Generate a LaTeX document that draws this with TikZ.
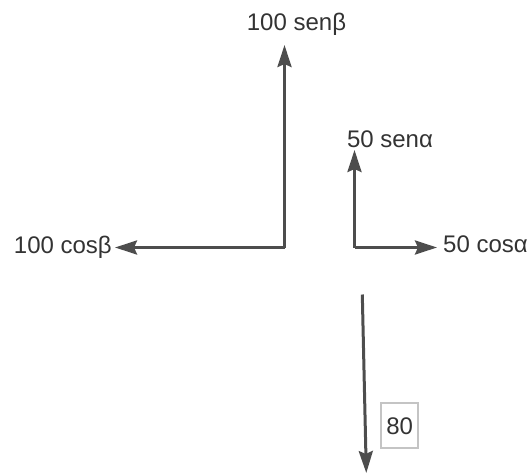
\documentclass[tikz,border=0pt]{standalone}
\usepackage{fontspec}
\setmainfont{Liberation Sans}
\usetikzlibrary{arrows.meta}
\definecolor{vecgray}{HTML}{4D4D4D}
\definecolor{txtgray}{HTML}{333333}
\definecolor{boxgray}{HTML}{C4C4C4}
\tikzset{
	vec/.style={line width=3pt, color=vecgray, -{Stealth[length=22pt, width=14pt, inset=3pt]}},
	lbl/.style={inner sep=0pt, text=txtgray, font=\fontsize{24}{28}\selectfont},
	valbox/.style={lbl, draw=boxgray, line width=2pt, minimum width=37pt, minimum height=45pt}
}

\begin{document}
\begin{tikzpicture}[x=1pt, y=-1pt]
			%%%%% START %%%%%
			
			\useasboundingbox (0, 0) rectangle (530, 474);
			
			\coordinate (beta) at (284.5, 247.5);
			\coordinate (betaup) at (284.5, 45);
			\coordinate (betaleft) at (115, 247.5);
			
			\coordinate (alpha) at (354.5, 247.5);
			\coordinate (alphaup) at (354.5, 150);
			\coordinate (alpharight) at (437, 247.5);
			
			\coordinate (weighttop) at (362.3, 294.5);
			\coordinate (weightend) at (366.3, 473);
			
			\draw[vec] (beta) -- (betaup);
			\draw[vec] (beta) -- (betaleft);
			\draw[vec] (alpha) -- (alphaup);
			\draw[vec] (alpha) -- (alpharight);
			\draw[vec] (weighttop) -- (weightend);
			
			\node[lbl, anchor=base] (senB) at (296.5, 30) {100 senβ};
			\node[lbl, anchor=base east] (cosB) at (112, 253) {100 cosβ};
			\node[lbl, anchor=base] (senA) at (390, 147) {50 senα};
			\node[lbl, anchor=base west] (cosA) at (443, 252) {50 cosα};
			
			\node[valbox] (weight) at (399.7, 425.8) {80};
			
			%%%%% END %%%%%
		\end{tikzpicture}
\end{document}
